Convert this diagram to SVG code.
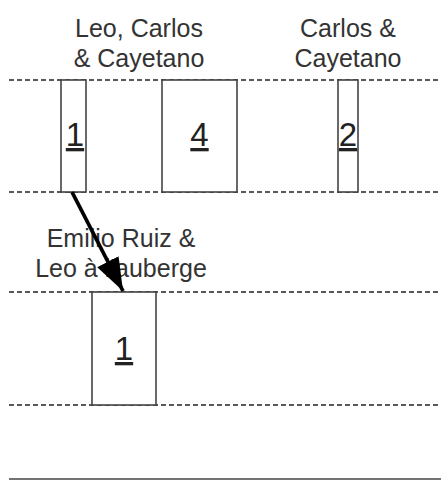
<svg xmlns="http://www.w3.org/2000/svg" width="441" height="481" viewBox="0 0 441 481">
<style>
.lane{stroke:#222;stroke-width:1.4;stroke-dasharray:5,3;fill:none}
.box{fill:#fff;stroke:#444;stroke-width:1.6}
.lbl{font-family:"Liberation Sans",Arial,sans-serif;font-size:25px;fill:#333;text-anchor:middle}
.num{font-family:"Liberation Sans",Arial,sans-serif;font-size:33px;fill:#222;text-anchor:middle;text-decoration:underline}
</style>
<defs>
<marker id="ah" markerUnits="userSpaceOnUse" markerWidth="36" markerHeight="28" refX="33" refY="12" orient="auto">
<path d="M0,0 L33,12 L0,24 Z" fill="#000"/>
</marker>
</defs>
<rect width="441" height="481" fill="#fff"/>
<g id="lanes">
<line class="lane" x1="9" y1="80" x2="441" y2="80"/>
<line class="lane" x1="9" y1="192" x2="441" y2="192"/>
<line class="lane" x1="9" y1="292" x2="441" y2="292"/>
<line class="lane" x1="9" y1="405" x2="441" y2="405"/>
<line x1="9" y1="479" x2="441" y2="479" stroke="#444" stroke-width="1.6"/>
</g>
<g id="label-top1">
<text class="lbl" x="139" y="37">Leo, Carlos</text>
<text class="lbl" x="139" y="67">&amp; Cayetano</text>
</g>
<g id="label-top2">
<text class="lbl" x="348" y="37">Carlos &amp;</text>
<text class="lbl" x="348" y="67">Cayetano</text>
</g>
<g id="label-bottom">
<text class="lbl" x="121" y="247">Emilio Ruiz &amp;</text>
<text class="lbl" x="121" y="277">Leo à l'auberge</text>
</g>
<g id="node-1a">
<rect class="box" x="61" y="80" width="25" height="112"/>
<text class="num" x="75" y="146">1</text>
</g>
<g id="node-4">
<rect class="box" x="162" y="80" width="75" height="112"/>
<text class="num" x="199.5" y="146">4</text>
</g>
<g id="node-2">
<rect class="box" x="338" y="80" width="20" height="112"/>
<text class="num" x="348" y="146">2</text>
</g>
<g id="node-1b">
<rect class="box" x="92" y="292" width="64" height="113"/>
<text class="num" x="124" y="360">1</text>
</g>
<g id="connectors">
<line x1="72" y1="192" x2="123" y2="291" stroke="#000" stroke-width="3.8" marker-end="url(#ah)"/>
</g>
</svg>
